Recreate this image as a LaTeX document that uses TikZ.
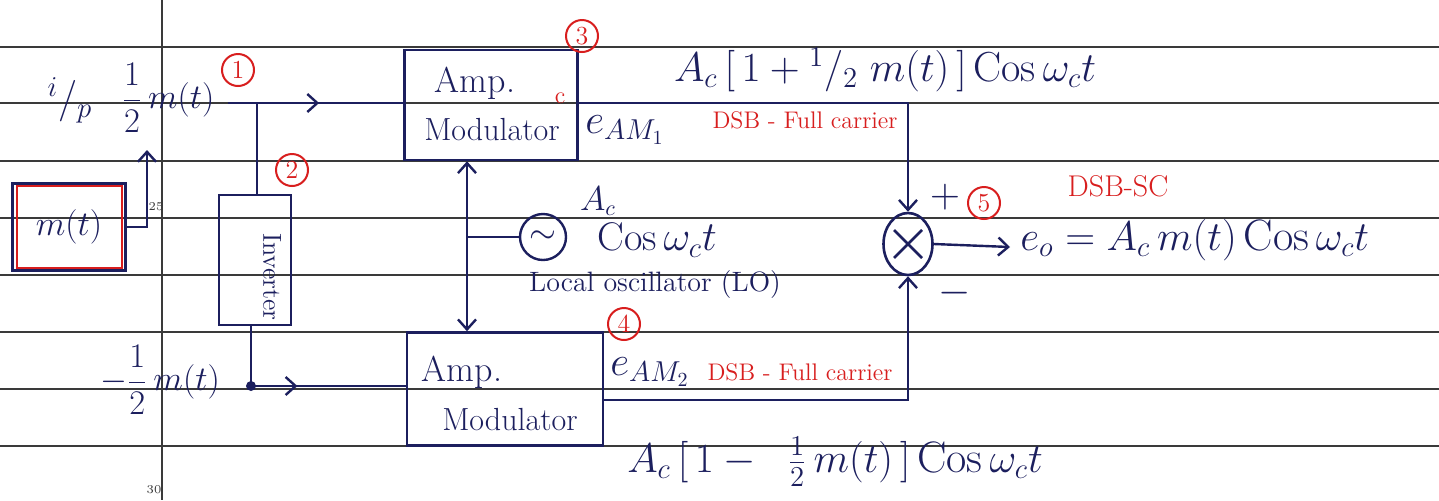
\documentclass[tikz,border=0pt]{standalone}
\usepackage{fontspec}
\usetikzlibrary{arrows.meta,shapes.geometric,decorations.markings,calc}
\definecolor{ink}{HTML}{1C1F5E}
\definecolor{redink}{HTML}{D81E1E}
\definecolor{rulegray}{HTML}{3A3A3A}
\newcommand{\fs}[1]{\fontsize{#1}{#1}\selectfont}
\begin{document}
\begin{tikzpicture}[x=0.5pt,y=-0.5pt,
  blk/.style={draw=ink, line width=1.3pt, text=ink, inner sep=0pt},
  wire/.style={draw=ink, line width=1.2pt},
  tip/.style={-{Straight Barb[length=5pt,width=9pt]}},
  midarrow/.style={postaction={decorate}, decoration={markings,
     mark=at position #1 with {\arrow{Straight Barb[length=5pt,width=9pt]}}}},
  hand/.style={text=ink, inner sep=1pt},
  redtxt/.style={text=redink, inner sep=1pt, font=\fs{12}},
  num/.style={circle, draw=redink, text=redink, line width=1pt, inner sep=0pt, minimum size=16pt, font=\fs{13}}]
\useasboundingbox (0,0) rectangle (1439,500);
\fill[white] (0,0) rectangle (1439,500);
% ruled paper
\foreach \yy in {47,103,161,218,275,332,389,446}
  \draw[rulegray, line width=0.9pt] (0,\yy) -- (1439,\yy);
\draw[rulegray, line width=0.8pt] (162,0) -- (162,500);
\node[text=rulegray, font=\fs{6}, inner sep=0pt] (n25) at (156,207) {25};
\node[text=rulegray, font=\fs{6}, inner sep=0pt] (n30) at (154,490) {30};

% message source
\node[blk, minimum width=56.5pt, minimum height=43.5pt, font=\fs{18}] (mtb) at (69,227) {$m(t)$};
\draw[redink, line width=1.2pt] ($(mtb.north west)+(6,4)$) rectangle ($(mtb.south east)+(-5,-4)$);
\coordinate (up) at (147,150);
\draw[wire, tip] (mtb.east) -| (up);

% input labels
\node[hand, font=\fs{22}] (ip) at (70,100) {$^{i}/_{p}$};
\node[hand, font=\fs{18}] (half) at (168,98) {$\displaystyle\frac{1}{2}\,m(t)$};
\node[num] (c1) at (238,70) {1};

% modulators
\node[blk, minimum width=86.5pt, minimum height=55pt] (am1) at (491,105) {};
\node[hand, font=\fs{18}] (am1a) at (475,83) {Amp.};
\node[hand, font=\fs{16}] (am1b) at (492,130) {Modulator};
\node[text=redink, font=\fs{12}, inner sep=0pt] (cc) at (560,98) {c};
\node[num] (c3) at (582,36) {3};

\node[blk, minimum width=98pt, minimum height=56.5pt] (am2) at (505,389) {};
\node[hand, font=\fs{18}] (am2a) at (462,372) {Amp.};
\node[hand, font=\fs{16}] (am2b) at (510,420) {Modulator};
\node[num] (c4) at (624,324) {4};

% input path and inverter
\coordinate (inp) at (228,103);
\draw[wire, midarrow=0.52] (inp) -- (inp -| am1.west);
\node[blk, minimum width=36pt, minimum height=65pt] (inv) at (255,260) {};
\node[hand, font=\fs{13}, rotate=-90] (invt) at (272,277) {Inverter};
\node[num] (c2) at (292,170) {2};
\coordinate (br1) at (257,103);
\draw[wire] (br1) -- (br1 |- inv.north);
\coordinate (br2) at (251,386);
\draw[wire] (br2 |- inv.south) -- (br2);
\fill[ink] (br2) circle (2.5pt);
\draw[wire, midarrow=0.3] (br2) -- (br2 -| am2.west);
\node[hand, font=\fs{18}] (neghalf) at (160,380) {$\displaystyle-\frac{1}{2}\,m(t)$};

% local oscillator
\coordinate (lo) at (467,237);
\node[circle, draw=ink, line width=1.2pt, minimum size=23pt, inner sep=0pt, text=ink, font=\fs{16}] (osc) at (543,237) {$\sim$};
\draw[wire] (lo) -- (osc.west);
\draw[wire, tip] (lo) -- (lo |- am1.south);
\draw[wire, tip] (lo) -- (lo |- am2.north);
\node[hand, font=\fs{16}] (acs) at (598,201) {$A_c$};
\node[hand, font=\fs{20}] (cosw) at (657,240) {$\mathrm{Cos}\,\omega_c t$};
\node[hand, font=\fs{14}] (lolbl) at (655,285) {Local oscillator (LO)};

% AM outputs
\node[hand, font=\fs{20}] (eam1) at (625,130) {$e_{AM_1}$};
\node[redtxt] (dsb1) at (805,120) {DSB - Full carrier};
\node[hand, font=\fs{21}] (f1) at (885,70) {$A_c\,\big[\,1+{}^{1}/_{2}\;m(t)\,\big]\,\mathrm{Cos}\,\omega_c t$};
\node[hand, font=\fs{20}] (eam2) at (650,372) {$e_{AM_2}$};
\node[redtxt] (dsb2) at (800,372) {DSB - Full carrier};
\node[hand, font=\fs{22}] (f2) at (835,462) {$A_c\,\big[\,1-\mkern10mu\frac{1}{2}\,m(t)\,\big]\,\mathrm{Cos}\,\omega_c t$};

% mixer
\node[ellipse, draw=ink, line width=1.3pt, minimum width=24.5pt, minimum height=31pt, inner sep=0pt] (mix) at (908,244) {};
\draw[ink, line width=1.3pt] ($(mix.center)+(-14,-14)$) -- ($(mix.center)+(14,14)$);
\draw[ink, line width=1.3pt] ($(mix.center)+(-14,14)$) -- ($(mix.center)+(14,-14)$);
\coordinate (k1) at (908,103);
\draw[wire, tip] (k1 -| am1.east) -- (k1) -- (mix.north);
\coordinate (k2) at (908,400);
\draw[wire, tip] (k2 -| am2.east) -- (k2) -- (mix.south);
\node[hand, font=\fs{22}] (plus) at (945,197) {$+$};
\node[hand, font=\fs{22}] (minus) at (955,293) {$-$};
\node[num] (c5) at (984,203) {5};
\node[text=redink, font=\fs{15}, inner sep=1pt] (dsbsc) at (1118,186) {DSB-SC};
\coordinate (outp) at (1010,247);
\draw[wire, tip] (mix.east) -- (outp);
\node[hand, font=\fs{22}, anchor=west] (eo) at (1018,240) {$e_o = A_c\, m(t)\,\mathrm{Cos}\,\omega_c t$};
\end{tikzpicture}
\end{document}
